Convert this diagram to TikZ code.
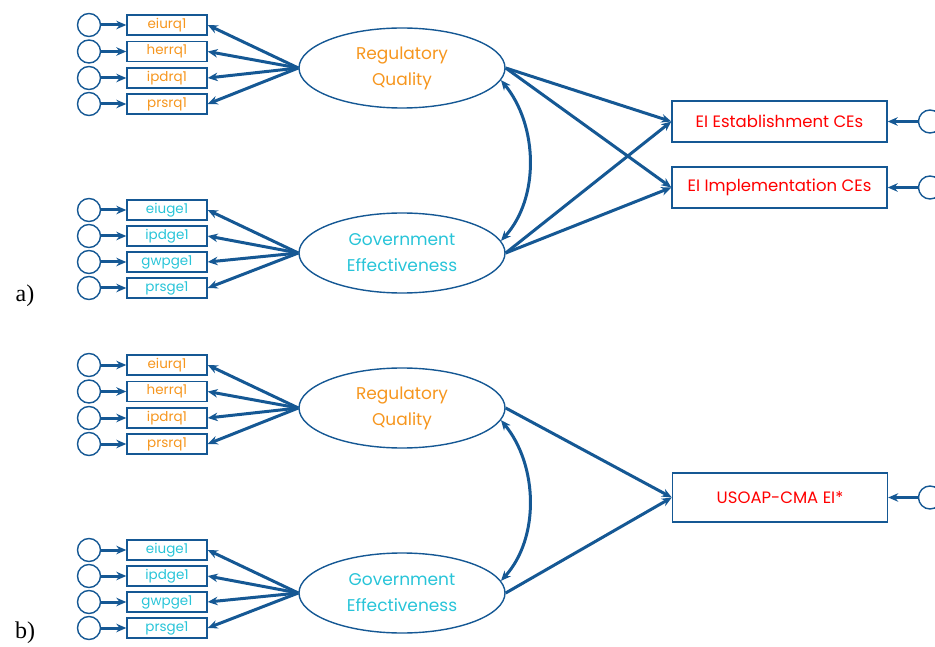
\documentclass[tikz,border=0pt]{standalone}
\usepackage{fontspec}
\setmainfont{Poppins}
\newfontfamily\labelserif{Liberation Serif}
\usetikzlibrary{shapes.geometric,arrows.meta}
\definecolor{semblue}{RGB}{21,88,148}
\definecolor{rqorange}{RGB}{246,150,30}
\definecolor{gecyan}{RGB}{40,196,216}
\definecolor{outred}{RGB}{255,0,0}
\begin{document}
\begin{tikzpicture}[x=1pt,y=-1pt,
 obsbox/.style={draw=semblue, line width=1.4pt, minimum width=80pt, minimum height=20pt, inner sep=0pt, font=\fontsize{13.5}{15}\selectfont},
 latent/.style={ellipse, draw=semblue, line width=1.4pt, minimum width=206pt, minimum height=80pt, inner sep=0pt, align=center, font=\fontsize{17}{26}\selectfont},
 errc/.style={circle, draw=semblue, line width=1.4pt, minimum size=23pt, inner sep=0pt},
 outbox/.style={draw=semblue, line width=1.4pt, minimum width=215pt, inner sep=0pt, text=outred, font=\fontsize{16.5}{18}\selectfont},
 arr/.style={draw=semblue, line width=3pt, -{Stealth[length=10pt,width=8.5pt]}},
 cov/.style={draw=semblue, line width=3pt, {Stealth[length=10pt,width=8.5pt]}-{Stealth[length=10pt,width=8.5pt]}},
 panellabel/.style={font=\labelserif\fontsize{24}{26}\selectfont}
]
\useasboundingbox (0,0) rectangle (935,647);
\clip (0,0) rectangle (935,647);

% ================= panel a =================
\node[latent, text=rqorange] (rqA) at (402,68) {Regulatory\\Quality};
\node[latent, text=gecyan] (geA) at (402,253) {Government\\Effectiveness};

\foreach \nm/\txt/\yy in {a1/eiurq1/25, a2/herrq1/51.5, a3/ipdrq1/78, a4/prsrq1/104}{
  \node[obsbox, text=rqorange] (box\nm) at (167,\yy) {\txt};
  \node[errc] (err\nm) at (89,\yy) {};
  \draw[arr] (err\nm) -- (box\nm);
  \draw[arr] (rqA.west) -- (box\nm.east);
}
\foreach \nm/\txt/\yy in {b1/eiuge1/210, b2/ipdge1/236, b3/gwpge1/262, b4/prsge1/288}{
  \node[obsbox, text=gecyan] (box\nm) at (167,\yy) {\txt};
  \node[errc] (err\nm) at (89,\yy) {};
  \draw[arr] (err\nm) -- (box\nm);
  \draw[arr] (geA.west) -- (box\nm.east);
}

\node[outbox, minimum height=41pt] (estA) at (779.5,121.5) {EI Establishment CEs};
\node[outbox, minimum height=41pt] (impA) at (779.5,187.5) {EI Implementation CEs};
\node[errc] (eestA) at (930,121.5) {};
\node[errc] (eimpA) at (930,187.5) {};
\draw[arr] (eestA) -- (estA);
\draw[arr] (eimpA) -- (impA);

\draw[arr] (rqA.east) -- (estA.west);
\draw[arr] (rqA.east) -- (impA.west);
\draw[arr] (geA.east) -- (estA.west);
\draw[arr] (geA.east) -- (impA.west);
\draw[cov] (rqA.-7) .. controls +(37,45) and +(39,-43) .. (geA.7);

\node[panellabel] (la) at (25,296) {a)};

% ================= panel b =================
\node[latent, text=rqorange] (rqB) at (402,408) {Regulatory\\Quality};
\node[latent, text=gecyan] (geB) at (402,593) {Government\\Effectiveness};

\foreach \nm/\txt/\yy in {c1/eiurq1/365, c2/herrq1/391.5, c3/ipdrq1/418, c4/prsrq1/444}{
  \node[obsbox, text=rqorange] (box\nm) at (167,\yy) {\txt};
  \node[errc] (err\nm) at (89,\yy) {};
  \draw[arr] (err\nm) -- (box\nm);
  \draw[arr] (rqB.west) -- (box\nm.east);
}
\foreach \nm/\txt/\yy in {d1/eiuge1/550, d2/ipdge1/576, d3/gwpge1/602, d4/prsge1/628}{
  \node[obsbox, text=gecyan] (box\nm) at (167,\yy) {\txt};
  \node[errc] (err\nm) at (89,\yy) {};
  \draw[arr] (err\nm) -- (box\nm);
  \draw[arr] (geB.west) -- (box\nm.east);
}

\node[outbox, minimum height=49pt] (usoap) at (780,497.5) {USOAP-CMA EI*};
\node[errc] (eusoap) at (930,497.5) {};
\draw[arr] (eusoap) -- (usoap);

\draw[arr] (rqB.east) -- (usoap.west);
\draw[arr] (geB.east) -- (usoap.west);
\draw[cov] (rqB.-7) .. controls +(37,45) and +(39,-43) .. (geB.7);

\node[panellabel] (lb) at (25,633) {b)};
\end{tikzpicture}
\end{document}
